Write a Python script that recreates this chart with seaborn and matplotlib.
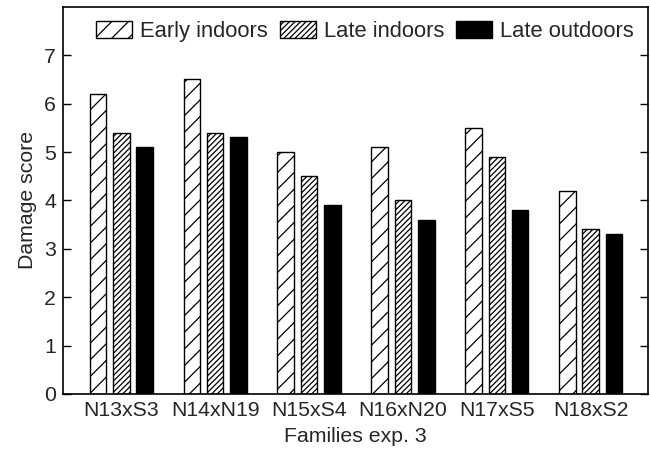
import matplotlib
matplotlib.use("Agg")
import matplotlib.pyplot as plt
import matplotlib.patches as mpatches
import seaborn as sns
import pandas as pd

families = ["N13xS3", "N14xN19", "N15xS4", "N16xN20", "N17xS5", "N18xS2"]
early_indoors = [6.2, 6.5, 5.0, 5.1, 5.5, 4.2]
late_indoors = [5.4, 5.4, 4.5, 4.0, 4.9, 3.4]
late_outdoors = [5.1, 5.3, 3.9, 3.6, 3.8, 3.3]
series_names = ["Early indoors", "Late indoors", "Late outdoors"]
yticks = [0, 1, 2, 3, 4, 5, 6, 7]

sns.set_theme(style="white")
plt.rcParams["font.family"] = ["Liberation Sans", "DejaVu Sans"]
plt.rcParams["hatch.linewidth"] = 0.9

rows = []
for name, vals in zip(series_names, [early_indoors, late_indoors, late_outdoors]):
    for fam, v in zip(families, vals):
        rows.append({"Family": fam, "Series": name, "Score": v})
df = pd.DataFrame(rows)

fig = plt.figure(figsize=(6.5, 4.57), dpi=100)
ax = fig.add_axes([0.097, 0.138, 0.900, 0.847])

sns.barplot(data=df, x="Family", y="Score", hue="Series", order=families,
            hue_order=series_names,
            palette=["white", "white", "black"], edgecolor="black",
            linewidth=1.0, width=0.745, gap=0.29, legend=False, ax=ax)

hatches = ["//", "//////", None]
for cont, h in zip(ax.containers, hatches):
    for p in cont.patches:
        if h:
            p.set_hatch(h)

fs = 15.3
ax.set_ylim(0, 8)
ax.set_xlim(-0.62, 5.61)
ax.set_yticks(yticks)
ax.set_yticklabels([str(t) for t in yticks], fontsize=fs)
ax.tick_params(axis="x", length=0, labelsize=fs, pad=5)
ax.tick_params(axis="y", direction="in", length=6, width=1.0, color="black",
               left=True, right=True, labelsize=fs, pad=5)
ax.set_xlabel("Families exp. 3", fontsize=fs, labelpad=5)
ax.set_ylabel("Damage score", fontsize=fs, labelpad=5)
for s in ax.spines.values():
    s.set_color("black")
    s.set_linewidth(1.2)

handles = [mpatches.Patch(facecolor="white", edgecolor="black", hatch="//"),
           mpatches.Patch(facecolor="white", edgecolor="black", hatch="//////"),
           mpatches.Patch(facecolor="black", edgecolor="black")]
ax.legend(handles, series_names, loc="center", bbox_to_anchor=(0.516, 0.936),
          ncol=3, frameon=False, fontsize=15.8, handlelength=1.65, handleheight=0.75,
          handletextpad=0.35, columnspacing=0.55, borderpad=0.1)

fig.savefig("out.png", dpi=100)
